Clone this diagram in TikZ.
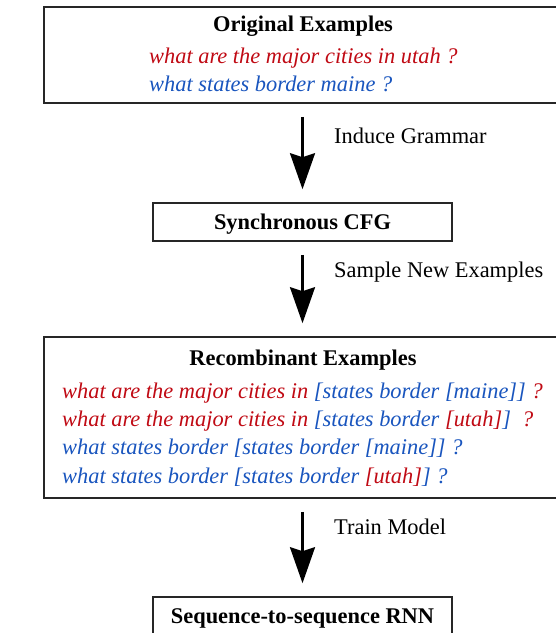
\documentclass[tikz,border=0pt]{standalone}
\usepackage{fontspec}
\setmainfont{Liberation Serif}
\usetikzlibrary{arrows.meta}
\definecolor{exred}{RGB}{192,10,20}
\definecolor{exblue}{RGB}{25,85,190}
\tikzset{
  box/.style={draw=black!85, line width=1.6pt, fill=none, inner sep=0pt},
  ttl/.style={font=\fontsize{22.4}{26}\selectfont\bfseries, anchor=base, inner sep=0pt},
  ex/.style={font=\fontsize{22.4}{26}\selectfont\itshape, anchor=base west, inner sep=0pt},
  lbl/.style={font=\fontsize{22.4}{26}\selectfont, anchor=base west, inner sep=0pt},
  flow/.style={line width=2.6pt, -{Stealth[length=36pt,width=25pt,inset=4pt]}, shorten <=13pt, shorten >=13pt}
}
\begin{document}
\begin{tikzpicture}[x=1pt,y=-1pt]
\useasboundingbox (0,0) rectangle (556,633);
\clip (0,0) rectangle (556,633);
% boxes
\node[box, minimum width=518pt, minimum height=96pt] (orig) at (303,55) {};
\node[box, minimum width=299pt, minimum height=38pt] (cfg) at (302.5,222) {};
\node[box, minimum width=518pt, minimum height=161pt] (rec) at (303,417.5) {};
\node[box, minimum width=299pt, minimum height=40pt] (seq) at (302.5,617) {};
% titles
\node[ttl] (origt) at (303,31) {Original Examples};
\node[ttl] (cfgt) at (302.5,229) {Synchronous CFG};
\node[ttl] (rect) at (303,365) {Recombinant Examples};
\node[ttl] (seqt) at (302.5,623) {Sequence-to-sequence RNN};
% original examples
\node[ex, text=exred] (o1) at (149,63) {what are the major cities in utah ?};
\node[ex, text=exblue] (o2) at (149,91) {what states border maine ?};
% recombinant examples
\node[ex] (r1) at (62,398) {\textcolor{exred}{what are the major cities in }\textcolor{exblue}{[states border [maine]] }\textcolor{exred}{?}};
\node[ex] (r2) at (62,426) {\textcolor{exred}{what are the major cities in }\textcolor{exblue}{[states border }\textcolor{exred}{[utah]}\textcolor{exblue}{]}\textcolor{exred}{\ \ ?}};
\node[ex, text=exblue] (r3) at (62,454) {what states border [states border [maine]] ?};
\node[ex] (r4) at (62,483) {\textcolor{exblue}{what states border [states border }\textcolor{exred}{[utah]}\textcolor{exblue}{] ?}};
% arrows
\draw[flow] (orig.south -| cfg.north) -- (cfg.north);
\draw[flow] (cfg.south) -- (cfg.south |- rec.north);
\draw[flow] (rec.south -| seq.north) -- (seq.north);
% labels
\node[lbl] (l1) at (334,143) {Induce Grammar};
\node[lbl] (l2) at (334,277) {Sample New Examples};
\node[lbl] (l3) at (334,534) {Train Model};
\end{tikzpicture}
\end{document}
